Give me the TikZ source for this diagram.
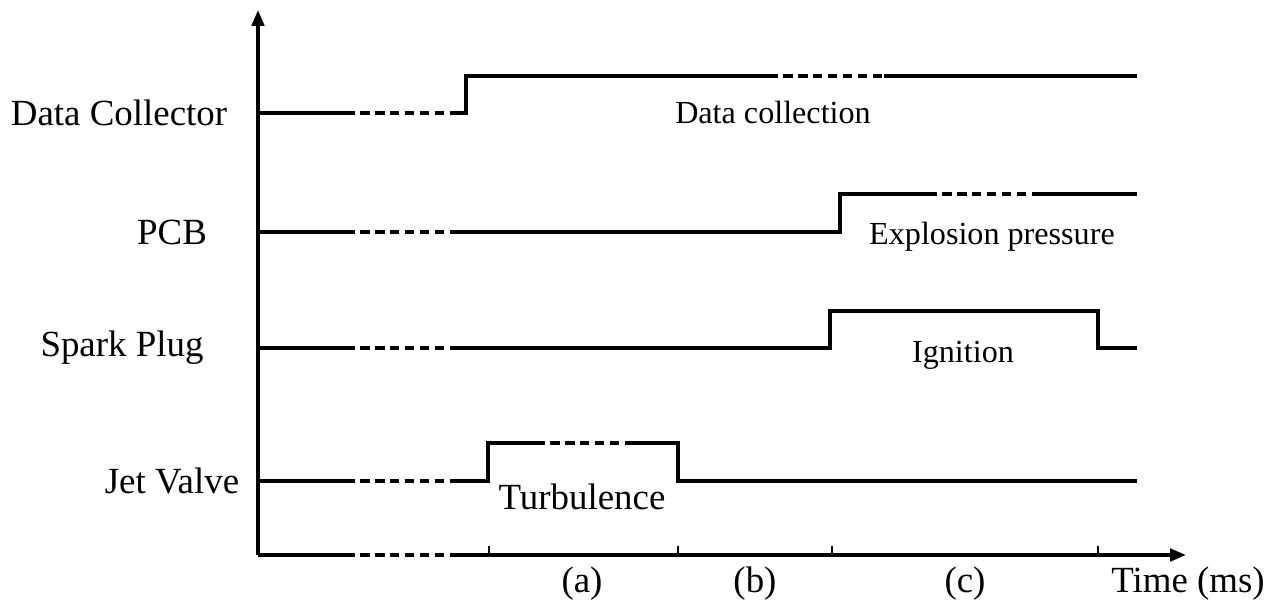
\documentclass[tikz,border=0pt]{standalone}
\usepackage{fontspec}
\setmainfont{Liberation Serif}
\usetikzlibrary{arrows.meta}
\begin{document}
\begin{tikzpicture}[x=0.02cm,y=-0.02cm,font=\fontsize{21}{24}\selectfont,
  sig/.style={line width=2.2pt,line join=miter},
  gap/.style={line width=2.2pt,dash pattern=on 5.5pt off 3pt},
  axis/.style={line width=2pt,-{Triangle[length=9pt,width=7pt]}},
  tick/.style={line width=1.2pt},
  inner/.style={font=\fontsize{18.3}{21}\selectfont}]
\useasboundingbox (0,0) rectangle (1276,608);

% axes
\coordinate (O) at (258,555);
\coordinate (ytop) at (258,10);
\coordinate (xend) at (1186,555);
\coordinate (xd1) at (345,555);
\coordinate (xd2) at (450,555);
\draw[line width=2pt] (O) -- (xd1);
\draw[gap,line width=2pt] (xd1) -- (xd2);
\draw[axis] (xd2) -- (xend);
\draw[axis] (O) -- (ytop);

% ticks
\coordinate (ta) at (489,555);
\coordinate (tb) at (678,555);
\coordinate (tc) at (832,555);
\coordinate (td) at (1098,555);
\draw[tick] (ta) -- ++(0,-9);
\draw[tick] (tb) -- ++(0,-9);
\draw[tick] (tc) -- ++(0,-9);
\draw[tick] (td) -- ++(0,-9);

% row labels
\node (dc) at (119,113) {Data Collector};
\node (pcb) at (172,232) {PCB};
\node (sp) at (122,348) {Spark Plug};
\node (jv) at (172,481) {Jet Valve};

% Data Collector
\coordinate (dc0) at (258,113);
\coordinate (dc1) at (345,113);
\coordinate (dc2) at (450,113);
\coordinate (dc3) at (466,113);
\coordinate (dc4) at (466,76);
\coordinate (dc5) at (768,76);
\coordinate (dc6) at (884,76);
\coordinate (dc7) at (1137,76);
\draw[sig] (dc0) -- (dc1);
\draw[gap] (dc1) -- (dc2);
\draw[sig] (dc2) -- (dc3) -- (dc4) -- (dc5);
\draw[gap] (dc5) -- (dc6);
\draw[sig] (dc6) -- (dc7);
\node[inner] (dctxt) at (773,113) {Data collection};

% PCB
\coordinate (p0) at (258,232);
\coordinate (p1) at (345,232);
\coordinate (p2) at (450,232);
\coordinate (p3) at (840,232);
\coordinate (p4) at (840,194);
\coordinate (p5) at (927,194);
\coordinate (p6) at (1032,194);
\coordinate (p7) at (1137,194);
\draw[sig] (p0) -- (p1);
\draw[gap] (p1) -- (p2);
\draw[sig] (p2) -- (p3) -- (p4) -- (p5);
\draw[gap] (p5) -- (p6);
\draw[sig] (p6) -- (p7);
\node[inner] (ptxt) at (992,237) {Explosion pressure};

% Spark Plug
\coordinate (s0) at (258,348);
\coordinate (s1) at (345,348);
\coordinate (s2) at (450,348);
\coordinate (s3) at (830,348);
\coordinate (s4) at (830,311);
\coordinate (s5) at (1098,311);
\coordinate (s6) at (1098,348);
\coordinate (s7) at (1137,348);
\draw[sig] (s0) -- (s1);
\draw[gap] (s1) -- (s2);
\draw[sig] (s2) -- (s3) -- (s4) -- (s5) -- (s6) -- (s7);
\node[inner] (stxt) at (963,355) {Ignition};

% Jet Valve
\coordinate (j0) at (258,481);
\coordinate (j1) at (345,481);
\coordinate (j2) at (450,481);
\coordinate (j3) at (488,481);
\coordinate (j4) at (488,443);
\coordinate (j5) at (535,443);
\coordinate (j6) at (633,443);
\coordinate (j7) at (678,443);
\coordinate (j8) at (678,481);
\coordinate (j9) at (1137,481);
\draw[sig] (j0) -- (j1);
\draw[gap] (j1) -- (j2);
\draw[sig] (j2) -- (j3) -- (j4) -- (j5);
\draw[gap] (j5) -- (j6);
\draw[sig] (j6) -- (j7) -- (j8) -- (j9);
\node (jtxt) at (582,497) {Turbulence};

% time labels
\node (la) at (582,584) {(a)};
\node (lb) at (755,584) {(b)};
\node (lc) at (965,584) {(c)};
\node (lt) at (1188,584) {Time (ms)};
\end{tikzpicture}
\end{document}
